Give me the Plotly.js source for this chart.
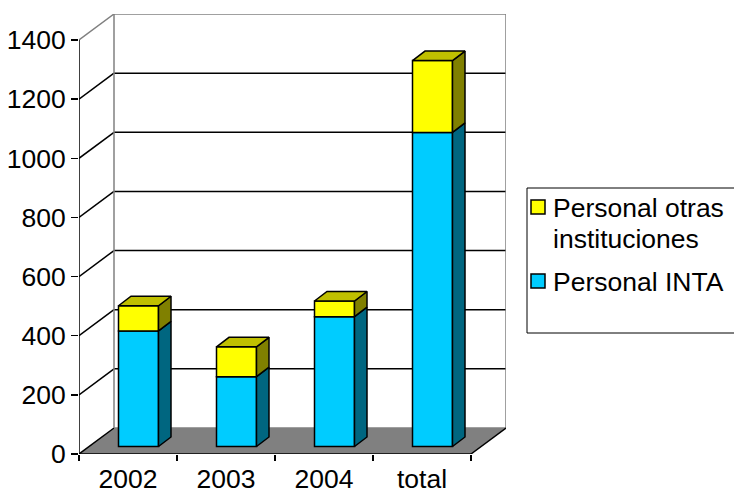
<!DOCTYPE html>
<html>
<head>
<meta charset="utf-8">
<script src="https://cdn.plot.ly/plotly-3.0.1.min.js"></script>
<style>html,body{margin:0;padding:0;background:#fff;}#chart{width:734px;height:495px;}</style>
</head>
<body>
<div id="chart"></div>
<script>
// ---- data ----
var categories = ["2002", "2003", "2004", "total"];
var personalINTA = [391, 236, 439, 1062];
var personalOtras = [85, 101, 53, 243];
var seriesNames = ["Personal INTA", "Personal otras instituciones"];
var legendLines = [["Personal INTA"], ["Personal otras", "instituciones"]];
var yTickVals = [0, 200, 400, 600, 800, 1000, 1200, 1400];

// ---- 3D geometry (axis units) ----
var pxPerCat = 98, pxPerUnit = 414 / 1400;
var DX = 35 / pxPerCat, DY = 26 / pxPerUnit;      // wall depth
var BX = 10.5 / pxPerCat, BD = 7.5 / pxPerUnit;    // bar front-face depth offset
var BW = 40 / pxPerCat;                            // bar width
var ddx = 12.5 / pxPerCat, ddy = 9.5 / pxPerUnit;  // bar depth
var x0 = -0.5, x1 = categories.length - 0.5;
var yMax = 1400;

var cINTA = "#00CCFF", cINTAside = "#006680";
var cOtras = "#FFFF00", cOtrasSide = "#808000", cOtrasTop = "#C0C000";
var gray = "#808080";
var FS = 26.5;

var idx = categories.map(function (_, i) { return i; });
var traces = [];

// front faces (bars)
traces.push({
  type: "bar", name: seriesNames[0], x: idx.map(function (i) { return i + BX; }),
  y: personalINTA, base: idx.map(function () { return BD; }), width: BW,
  marker: { color: cINTA, line: { color: "#000", width: 1.5 } }, showlegend: false
});
traces.push({
  type: "bar", name: seriesNames[1], x: idx.map(function (i) { return i + BX; }),
  y: personalOtras, base: idx.map(function (i) { return BD + personalINTA[i]; }), width: BW,
  marker: { color: cOtras, line: { color: "#000", width: 1.5 } }, showlegend: false
});

function poly(xs, ys, color) {
  traces.push({
    type: "scatter", mode: "lines", x: xs.concat([xs[0]]), y: ys.concat([ys[0]]),
    fill: "toself", fillcolor: color, line: { color: "#000", width: 1.5 },
    showlegend: false, hoverinfo: "skip"
  });
}
idx.forEach(function (i) {
  var xl = i + BX - BW / 2, xr = i + BX + BW / 2;
  var b0 = BD, b1 = BD + personalINTA[i], b2 = b1 + personalOtras[i];
  poly([xr, xr + ddx, xr + ddx, xr], [b0, b0 + ddy, b1 + ddy, b1], cINTAside);
  poly([xr, xr + ddx, xr + ddx, xr], [b1, b1 + ddy, b2 + ddy, b2], cOtrasSide);
  poly([xl, xr, xr + ddx, xl + ddx], [b2, b2, b2 + ddy, b2 + ddy], cOtrasTop);
});

// walls, floor, gridlines
var shapes = [];
function line(xa, ya, xb, yb, color, w) {
  shapes.push({ type: "line", layer: "below", xref: "x", yref: "y", x0: xa, y0: ya, x1: xb, y1: yb,
    line: { color: color, width: w || 1.5 } });
}
shapes.push({ type: "path", layer: "below", xref: "x", yref: "y",
  path: "M" + x0 + "," + 0 + " L" + x1 + "," + 0 + " L" + (x1 + DX) + "," + DY + " L" + (x0 + DX) + "," + DY + " Z",
  fillcolor: gray, line: { width: 0 } });
yTickVals.forEach(function (v) {
  var top = (v === yMax);
  line(x0, v, x0 + DX, v + DY, top ? gray : "#000");
  line(x0 + DX, v + DY, x1 + DX, v + DY, (top || v === 0) ? gray : "#000");
});
line(x0 + DX, DY, x0 + DX, yMax + DY, gray);
line(x1 + DX, DY, x1 + DX, yMax + DY, gray);
line(x1, 0, x1 + DX, DY, "#000");
line(x0, 0, x0, yMax, "#000", 1.5);
line(x0, 0, x1, 0, "#000", 1.5);

// ---- legend (drawn in pixel space converted to paper coords) ----
var ML = 79, MT = 14, PW = 427, PH = 440;
function px(x) { return (x - ML) / PW; }
function py(y) { return (MT + PH - y) / PH; }
var annotations = [];
shapes.push({ type: "rect", xref: "paper", yref: "paper", x0: px(527), x1: px(770), y0: py(188), y1: py(333),
  fillcolor: "#fff", line: { color: "#000", width: 1 } });
var legendItems = [
  { color: cOtras, lines: legendLines[1], top: 200 },
  { color: cINTA, lines: legendLines[0], top: 274 }
];
legendItems.forEach(function (it) {
  shapes.push({ type: "rect", xref: "paper", yref: "paper", x0: px(531), x1: px(545),
    y0: py(it.top), y1: py(it.top + 14), fillcolor: it.color, line: { color: "#000", width: 1.5 } });
  it.lines.forEach(function (t, k) {
    annotations.push({ xref: "paper", yref: "paper", x: px(551), y: py(it.top + 8 + k * 31.5),
      xanchor: "left", yanchor: "middle", showarrow: false, text: t,
      font: { family: "Liberation Sans, Arial, sans-serif", size: FS, color: "#000" } });
  });
});

var fontFam = "Liberation Sans, Arial, sans-serif";
var boundaries = [x0].concat(idx.map(function (i) { return i + 0.5; }));

var layout = {
  width: 734, height: 495,
  margin: { l: ML, r: 734 - ML - PW, t: MT, b: 495 - MT - PH, autoexpand: false },
  paper_bgcolor: "#fff", plot_bgcolor: "rgba(0,0,0,0)",
  barmode: "overlay", showlegend: false,
  font: { family: fontFam, size: FS, color: "#000" },
  xaxis: {
    range: [x0, x0 + PW / pxPerCat], tickmode: "array", tickvals: idx, ticktext: categories,
    ticks: "", showgrid: false, zeroline: false, showline: false, fixedrange: true,
    ticklabelstandoff: 6,
    tickfont: { family: fontFam, size: FS, color: "#000" },
    minor: { tickmode: "array", tickvals: boundaries, ticks: "outside", ticklen: 6, tickwidth: 1.5, tickcolor: "#000", showgrid: false }
  },
  yaxis: {
    range: [0, PH / pxPerUnit], tickmode: "array", tickvals: yTickVals,
    ticks: "outside", ticklen: 7, tickwidth: 1.5, tickcolor: "#000",
    showgrid: false, zeroline: false, showline: false, fixedrange: true,
    tickfont: { family: fontFam, size: FS, color: "#000" }
  },
  shapes: shapes,
  annotations: annotations
};

Plotly.newPlot("chart", traces, layout, { displayModeBar: false, staticPlot: true });
</script>
</body>
</html>
